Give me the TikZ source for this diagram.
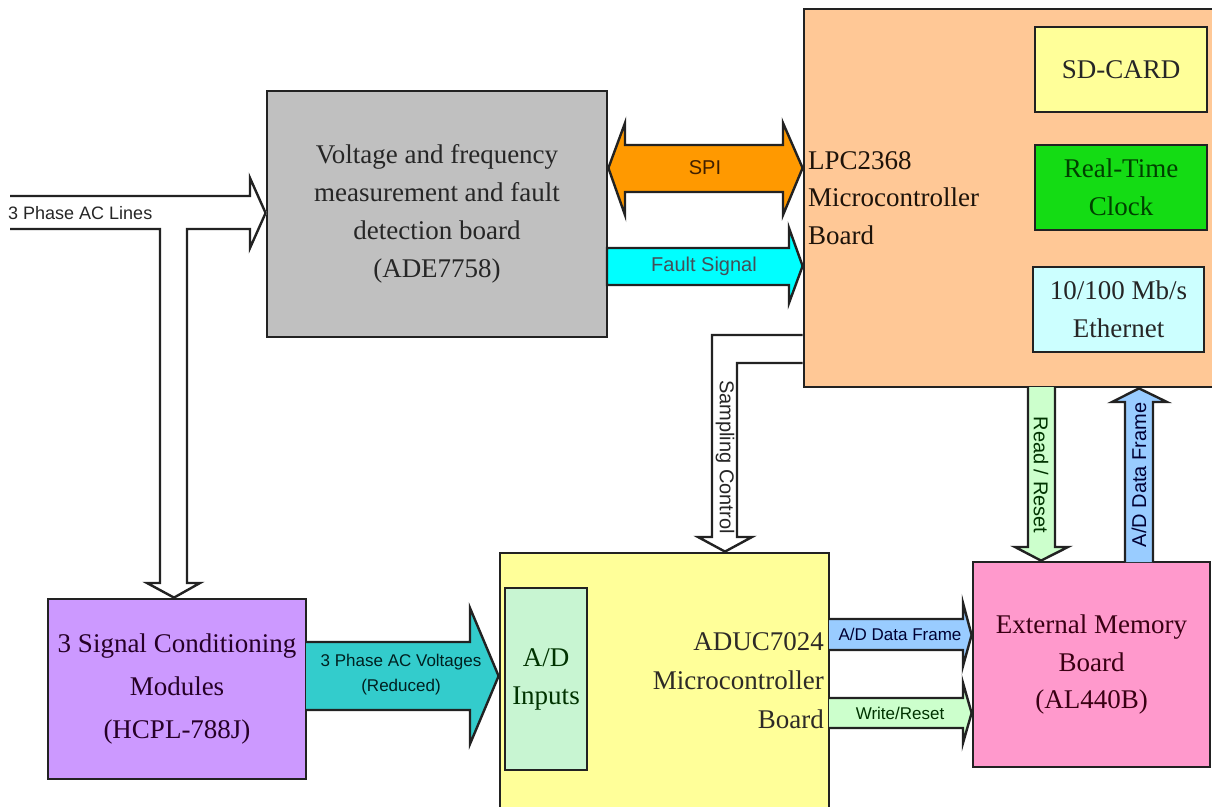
\documentclass[tikz,border=0pt]{standalone}
\usepackage{fontspec}
\setmainfont{Liberation Serif}
\newfontfamily\arialf{Liberation Sans}
\usetikzlibrary{calc}
\definecolor{boxline}{HTML}{222222}
\definecolor{grayfill}{HTML}{C0C0C0}
\definecolor{orangefill}{HTML}{FFC896}
\definecolor{sdfill}{HTML}{FFFF99}
\definecolor{rtcfill}{HTML}{14DC14}
\definecolor{ethfill}{HTML}{CCFFFF}
\definecolor{purplefill}{HTML}{CC99FF}
\definecolor{yellowfill}{HTML}{FFFF99}
\definecolor{mintfill}{HTML}{C8F5D2}
\definecolor{pinkfill}{HTML}{FF99CC}
\definecolor{spifill}{HTML}{FF9900}
\definecolor{cyanfill}{HTML}{00FFFF}
\definecolor{tealfill}{HTML}{33CCCC}
\definecolor{bluefill}{HTML}{99CCFF}
\definecolor{greenfill}{HTML}{CCFFCC}
\tikzset{
  boxnode/.style={draw=boxline, line width=2.8pt, inner sep=0pt, align=center,
    font=\fontsize{27}{38}\selectfont},
  blockarrow/.style={draw=boxline, line width=2.4pt, line join=miter},
  arrowlabel/.style={inner sep=0pt, font=\arialf\fontsize{18}{24}\selectfont, text=black!85},
}
\begin{document}
\begin{tikzpicture}[x=1pt,y=-1pt]
\useasboundingbox (0,0) rectangle (1212,806);
\clip (0,0) rectangle (1212,806);
\fill[white] (0,0) rectangle (1212,806);

% ---------- boxes ----------
\node[boxnode, fill=grayfill, text=black!85, minimum width=340pt, minimum height=246pt]
  (vfm) at (437,214) {Voltage and frequency\\measurement and fault\\detection board\\(ADE7758)};

\node[boxnode, fill=orangefill, minimum width=414pt, minimum height=378pt]
  (lpc) at (1011,198) {};
\node[anchor=west, align=left, inner sep=0pt, text=black!85!brown,
  font=\fontsize{27}{37.5}\selectfont] (lpctext) at (808,198)
  {LPC2368\\Microcontroller\\Board};

\node[boxnode, fill=sdfill, text=black!85, minimum width=172pt, minimum height=85pt]
  (sd) at (1121,69.5) {SD-CARD};
\node[boxnode, fill=rtcfill, text=black!75!green, minimum width=172pt, minimum height=85pt]
  (rtc) at (1121,187.5) {Real-Time\\Clock};
\node[boxnode, fill=ethfill, text=black!85, minimum width=171pt, minimum height=85pt]
  (eth) at (1118.5,309.5) {10/100 Mb/s\\Ethernet};

\node[boxnode, fill=purplefill, text=black!70!violet, minimum width=258pt, minimum height=180pt,
  font=\fontsize{27}{43}\selectfont]
  (scm) at (177,689) {3 Signal Conditioning\\Modules\\(HCPL-788J)};

\node[boxnode, fill=yellowfill, minimum width=329pt, minimum height=260pt]
  (aduc) at (664.5,683) {};
\node[anchor=east, align=right, inner sep=0pt, text=black!90!olive,
  font=\fontsize{27}{39}\selectfont] (aductext) at (824,681)
  {ADUC7024\\Microcontroller\\Board};

\node[boxnode, fill=mintfill, text=black!80!green, minimum width=82pt, minimum height=182pt]
  (adin) at (546,679) {A/D\\Inputs};

\node[boxnode, fill=pinkfill, text=black!70!purple, minimum width=237pt, minimum height=205pt,
  font=\fontsize{27}{37.5}\selectfont]
  (mem) at (1091.5,664.5) {External Memory\\Board\\(AL440B)};

% ---------- 3 Phase AC Lines (T-shaped white arrow) ----------
\fill[white] (10,196) -- (250,196) -- (250,178) -- (267,213) -- (250,248) -- (250,229)
  -- (187,229) -- (187,583) -- (200,583) -- (174,598) -- (147,583) -- (160,583)
  -- (160,229) -- (10,229) -- cycle;
\draw[blockarrow] (10,196) -- (250,196) -- (250,178) -- (vfm.west |- 0,213) -- (250,248) -- (250,229)
  -- (187,229) -- (187,583) -- (200,583) -- (scm.north -| 174,0) -- (147,583) -- (160,583)
  -- (160,229) -- (10,229);
\node[arrowlabel, anchor=west] (aclines) at (8,213) {3 Phase AC Lines};

% ---------- SPI ----------
\draw[blockarrow, fill=spifill] (vfm.east |- 0,168) -- (625,123) -- (625,145) -- (783,145) -- (783,123)
  -- (lpc.west |- 0,168) -- (783,215) -- (783,192) -- (625,192) -- (625,215) -- cycle;
\node[arrowlabel, font=\arialf\fontsize{20}{24}\selectfont, text=black!75!orange] (spi) at (705,168) {SPI};

% ---------- Fault Signal ----------
\draw[blockarrow, fill=cyanfill] (607,248) -- (789,248) -- (789,228) -- (lpc.west |- 0,266)
  -- (789,303) -- (789,285) -- (607,285) -- cycle;
\node[arrowlabel, font=\arialf\fontsize{20}{24}\selectfont, text=black!75!cyan] (fault) at (704,266) {Fault Signal};

% ---------- Sampling Control ----------
\draw[blockarrow, fill=white] (lpc.west |- 0,335) -- (712,335) -- (712,537) -- (698,537)
  -- (aduc.north -| 725,0) -- (752,537) -- (737,537) -- (737,363) -- (lpc.west |- 0,363);
\node[arrowlabel, rotate=-90, font=\arialf\fontsize{20}{24}\selectfont] (samp) at (725,457) {Sampling Control};

% ---------- Read / Reset ----------
\draw[blockarrow, fill=greenfill] (1028,387) -- (1028,547) -- (1015,547) -- (mem.north -| 1041,0)
  -- (1068,547) -- (1055,547) -- (1055,387);
\node[arrowlabel, rotate=-90, font=\arialf\fontsize{20}{24}\selectfont, text=black!80!green] (rr) at (1041,475) {Read / Reset};

% ---------- A/D Data Frame (up) ----------
\draw[blockarrow, fill=bluefill] (1125,562) -- (1125,402) -- (1112,402) -- (lpc.south -| 1139,0)
  -- (1167,402) -- (1153,402) -- (1153,562);
\node[arrowlabel, rotate=90, font=\arialf\fontsize{20}{24}\selectfont, text=black!80!blue] (adup) at (1139,475) {A/D Data Frame};

% ---------- 3 Phase AC Voltages ----------
\draw[blockarrow, fill=tealfill] (306,642) -- (470,642) -- (470,608) -- (aduc.west |- 0,676)
  -- (470,744) -- (470,710) -- (306,710);
\node[arrowlabel, align=center, font=\arialf\fontsize{17}{25}\selectfont, text=black!75!teal]
  (acv) at (401,675) {3 Phase AC Voltages\\(Reduced)};

% ---------- A/D Data Frame (right) ----------
\draw[blockarrow, fill=bluefill] (829,619) -- (963,619) -- (963,603) -- (mem.west |- 0,635)
  -- (963,666) -- (963,650) -- (829,650);
\node[arrowlabel, font=\arialf\fontsize{17}{24}\selectfont, text=black!80!blue] (adright) at (900,634) {A/D Data Frame};

% ---------- Write/Reset ----------
\draw[blockarrow, fill=greenfill] (829,698) -- (963,698) -- (963,683) -- (mem.west |- 0,713)
  -- (963,743) -- (963,728) -- (829,728);
\node[arrowlabel, font=\arialf\fontsize{17}{24}\selectfont, text=black!80!green] (wr) at (900,713) {Write/Reset};

\end{tikzpicture}
\end{document}
